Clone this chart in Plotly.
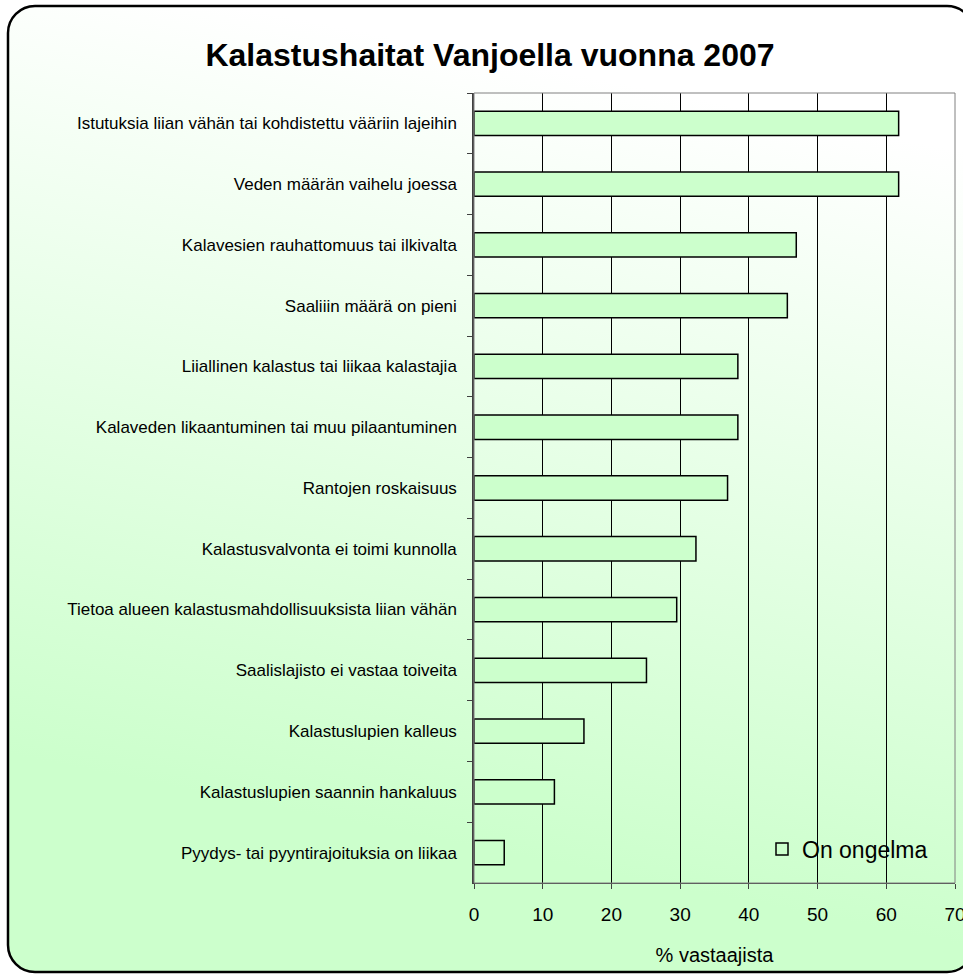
import base64
import plotly.graph_objects as go

categories = [
    "Istutuksia liian vähän tai kohdistettu vääriin lajeihin",
    "Veden määrän vaihelu joessa",
    "Kalavesien rauhattomuus tai ilkivalta",
    "Saaliiin määrä on pieni",
    "Liiallinen kalastus tai liikaa kalastajia",
    "Kalaveden likaantuminen tai muu pilaantuminen",
    "Rantojen roskaisuus",
    "Kalastusvalvonta ei toimi kunnolla",
    "Tietoa alueen kalastusmahdollisuuksista liian vähän",
    "Saalislajisto ei vastaa toiveita",
    "Kalastuslupien kalleus",
    "Kalastuslupien saannin hankaluus",
    "Pyydys- tai pyyntirajoituksia on liikaa",
]
values = [61.8, 61.8, 46.9, 45.6, 38.4, 38.4, 36.9, 32.3, 29.5, 25.1, 16.0, 11.7, 4.4]
series_name = "On ongelma"
x_ticks = [0, 10, 20, 30, 40, 50, 60, 70]

W, H = 963, 974
ML, MR, MT, MB = 474, 8, 93, 91
PW, PH = W - ML - MR, H - MT - MB

FONT = "Liberation Sans, Arial, sans-serif"

svg = (
    f'<svg xmlns="http://www.w3.org/2000/svg" width="{W}" height="{H}" viewBox="0 0 {W} {H}">'
    '<defs><linearGradient id="g" x1="0.6" y1="0" x2="0.4" y2="1">'
    '<stop offset="0.07" stop-color="#ffffff"/>'
    '<stop offset="0.86" stop-color="#ccffcc"/>'
    '</linearGradient></defs>'
    '<rect x="8" y="6" width="966" height="966" rx="27" ry="27" '
    'fill="url(#g)" stroke="#000000" stroke-width="2.5"/></svg>'
)
src = "data:image/svg+xml;base64," + base64.b64encode(svg.encode("utf-8")).decode("ascii")

fig = go.Figure()
fig.add_trace(go.Bar(
    x=values, y=categories, orientation="h", name=series_name,
    marker=dict(color="#ccffcc", line=dict(color="#000000", width=1.5)),
    showlegend=True,
))

fig.update_layout(
    width=W, height=H,
    margin=dict(l=ML, r=MR, t=MT, b=MB, pad=0, autoexpand=False),
    paper_bgcolor="#ffffff", plot_bgcolor="#ffffff",
    font=dict(family=FONT, color="#000000"),
    bargap=0.6,
    showlegend=True,
    title=dict(text="<b>Kalastushaitat Vanjoella vuonna 2007</b>",
               font=dict(family=FONT, size=32, color="#000000"),
               x=490 / W, xanchor="center", y=1 - 55 / H, yanchor="middle"),
    legend=dict(x=(762 - ML) / PW, xanchor="left", y=1 - (849 - MT) / PH, yanchor="middle",
                bgcolor="rgba(0,0,0,0)", borderwidth=0,
                font=dict(family=FONT, size=23, color="#000000"),
                itemwidth=30),
    images=[dict(source=src, xref="paper", yref="paper",
                 x=-ML / PW, y=1 + MT / PH, sizex=W / PW, sizey=H / PH,
                 xanchor="left", yanchor="top", sizing="stretch", layer="below")],
    shapes=[dict(type="rect", xref="x domain", yref="y domain", x0=0, x1=1, y0=0, y1=1,
                 line=dict(color="#808080", width=1), layer="above")],
)

fig.update_xaxes(
    range=[0, 70], tickvals=x_ticks, ticktext=[str(v) for v in x_ticks],
    showgrid=True, gridcolor="#000000", gridwidth=1,
    showline=True, linecolor="#404040", linewidth=1,
    ticks="outside", ticklen=5, tickcolor="#404040",
    tickfont=dict(family=FONT, size=19, color="#000000"),
    ticklabelstandoff=9, ticklabeloverflow="allow", automargin=False,
    title=dict(text="% vastaajista", font=dict(family=FONT, size=20, color="#000000"), standoff=24),
    zeroline=False, fixedrange=True,
)
fig.update_yaxes(
    categoryorder="array", categoryarray=categories, autorange="reversed",
    showgrid=False, showline=True, linecolor="#404040", linewidth=1.5,
    ticks="outside", ticklen=5, tickcolor="#404040", tickson="boundaries",
    tickfont=dict(family=FONT, size=17, color="#000000"), ticklabelstandoff=12,
    automargin=False, zeroline=False, fixedrange=True,
)

fig.write_html("out.html", config={"displayModeBar": False},
               post_script="document.body.style.margin='0';document.body.style.overflow='hidden';")
